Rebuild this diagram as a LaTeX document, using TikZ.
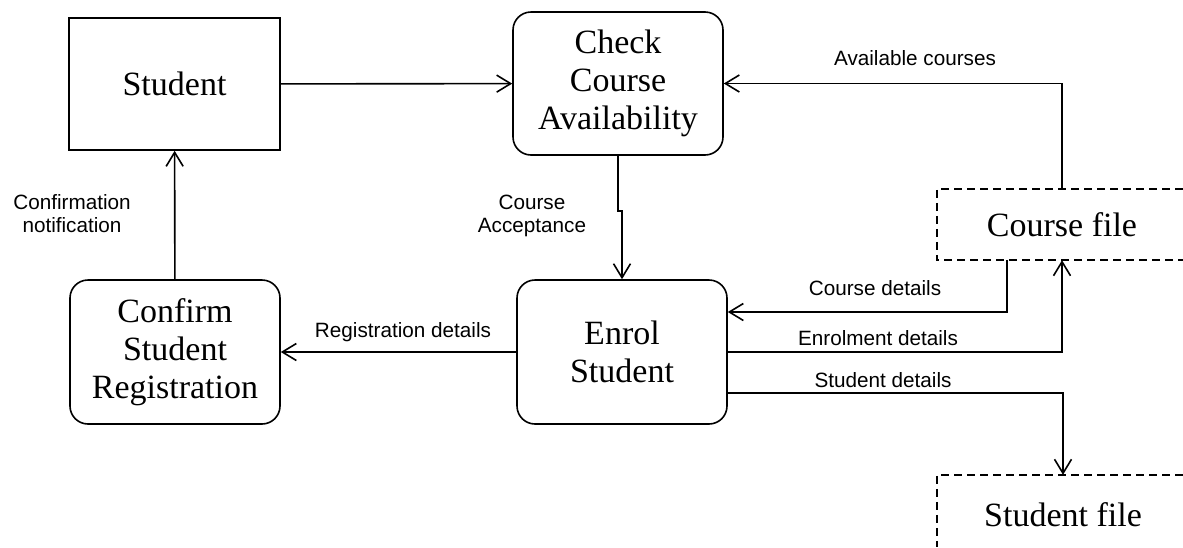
\documentclass[tikz,border=0pt]{standalone}
\usepackage{fontspec}
\setmainfont{Liberation Serif}
\newfontfamily\labfont{Liberation Sans}
\usetikzlibrary{arrows.meta}
\begin{document}
\begin{tikzpicture}[x=1pt,y=-1pt,
  big/.style={font=\fontsize{34}{38}\selectfont, align=center, inner sep=0pt},
  ent/.style={big, draw, line width=1.6pt, minimum width=211pt, minimum height=132pt},
  proc/.style={big, draw, line width=1.6pt, rounded corners=18pt, minimum width=210pt, minimum height=144pt},
  store/.style={big, draw=none},
  storeline/.style={line width=1.6pt, dash pattern=on 8pt off 5pt},
  flow/.style={line width=1.6pt, -{Straight Barb[length=14pt,width=17pt,line width=1.6pt]}},
  lab/.style={font=\labfont\fontsize{20.7}{23}\selectfont, align=center, inner sep=0pt}
]
\useasboundingbox (0,0) rectangle (1183,547);

\node[ent]  (student) at (174.5,84)  {Student};
\node[proc, minimum height=143pt] (check) at (618,83.5) {Check\\Course\\Availability};
\node[proc] (enrol)   at (622,352)   {Enrol\\Student};
\node[proc] (confirm) at (175,352)   {Confirm\\Student\\Registration};
\node[store, minimum width=250pt, minimum height=71pt] (cf) at (1062,224.5) {Course file};
\node[store, minimum width=252pt, minimum height=80pt] (sf) at (1063,515) {Student file};

% data store outlines (open at the right)
\draw[storeline] (cf.north west) ++(246,0) -- (cf.north west) -- (cf.south west) -- ++(246,0);
\draw[storeline] (sf.north west) ++(246,0) -- (sf.north west) -- ++(0,72);

% flows
\draw[flow] (student) -- (check);
\draw[flow] (confirm) -- (student);
\draw[flow] (check.south) -- ++(0,55) -| (enrol.north);
\draw[flow] (cf.north) |- (check.east);
\draw[flow] ([xshift=-55pt]cf.south) |- ([yshift=40pt]enrol.east);
\draw[flow] (enrol.east) -| (cf.south);
\draw[flow] ([yshift=-41pt]enrol.east) -| (sf.north);
\draw[flow] (enrol) -- (confirm);

% labels
\node[lab] (lavail) at (915,58)  {Available courses};
\node[lab] (lconf)  at (72,214)  {Confirmation\\notification};
\node[lab] (lacc)   at (532,216) {Course\\Acceptance};
\node[lab] (lreg)   at (403,332) {Registration details};
\node[lab] (lcd)    at (875,288) {Course details};
\node[lab] (led)    at (878,338) {Enrolment details};
\node[lab] (lsd)    at (883,380) {Student details};
\end{tikzpicture}
\end{document}
